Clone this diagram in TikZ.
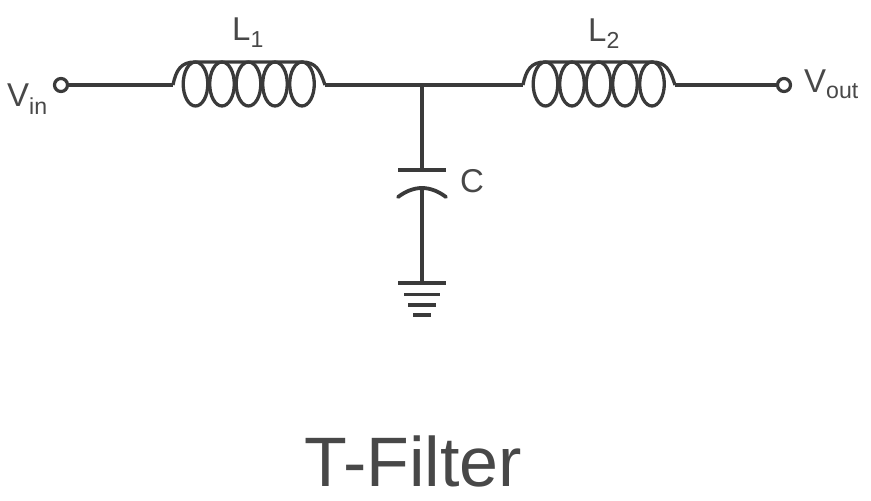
\documentclass[tikz,border=0pt]{standalone}
\usepackage{fontspec}
\setmainfont{Liberation Sans}
\definecolor{ink}{RGB}{58,58,58}
\definecolor{txt}{RGB}{72,72,72}
\tikzset{
  wire/.style={draw=ink,line width=4.4pt},
  thin wire/.style={draw=ink,line width=3.6pt},
  plate/.style={draw=ink,line width=3.8pt},
  coil/.style={draw=ink,line width=3.3pt},
  terminal/.style={circle,draw=ink,line width=3.2pt,fill=white,inner sep=0pt,minimum size=13pt},
  lbl/.style={text=txt,inner sep=0pt,font=\fontsize{33pt}{36pt}\selectfont}
}
\newcommand{\coilat}[1]{%
  \foreach \dx in {22.5,49,75.5,102,129}{
    \draw[coil] (#1+\dx,84) ellipse [x radius=12.3,y radius=22];
  }
  \draw[coil] (#1,85) .. controls (#1+3,70) and (#1+8,62) .. (#1+22,62)
     -- (#1+129,62) .. controls (#1+143,62) and (#1+147,70) .. (#1+152,85);
}
\begin{document}
\begin{tikzpicture}[x=1pt,y=-1pt]
\useasboundingbox (0,0) rectangle (871,501);
\coordinate (l1a) at (173,85);
\coordinate (l1b) at (325,85);
\coordinate (l2a) at (523,85);
\coordinate (l2b) at (675,85);
\coordinate (j) at (422,85);
\coordinate (ctop) at (422,170);
\coordinate (cbot) at (422,188);
\coordinate (gnd) at (422,283);
\coilat{173}
\coilat{523}
\node[terminal] (vin) at (61,85) {};
\node[terminal] (vout) at (784,85) {};
\draw[wire] (vin) -- (l1a);
\draw[wire] (l1b) -- (l2a);
\draw[wire] (l2b) -- (vout);
\draw[thin wire] (j) -- (ctop);
\draw[thin wire] (cbot) -- (gnd);
\draw[plate] (398,170) -- (446,170);
\draw[plate,line cap=round] (398,197) .. controls (406,191) and (414,188) .. (cbot) .. controls (430,188) and (438,191) .. (446,197);
\draw[plate] (398,283) -- (446,283);
\draw[plate] (404,294.5) -- (440,294.5);
\draw[plate] (408,305) -- (436,305);
\draw[plate] (413,315) -- (431,315);
\node[lbl,anchor=base west] (tl1) at (232,40) {L\textsubscript{1}};
\node[lbl,anchor=base west] (tl2) at (588,41) {L\textsubscript{2}};
\node[lbl,anchor=base west] (tc) at (460,192) {C};
\node[lbl,anchor=base west] (tvin) at (7,106) {V\textsubscript{in}};
\node[lbl,anchor=base west] (tvout) at (804,92) {V\textsubscript{out}};
\node[text=txt,inner sep=0pt,anchor=base,font=\fontsize{70pt}{74pt}\selectfont] (title) at (413,486) {T-Filter};
\end{tikzpicture}
\end{document}
